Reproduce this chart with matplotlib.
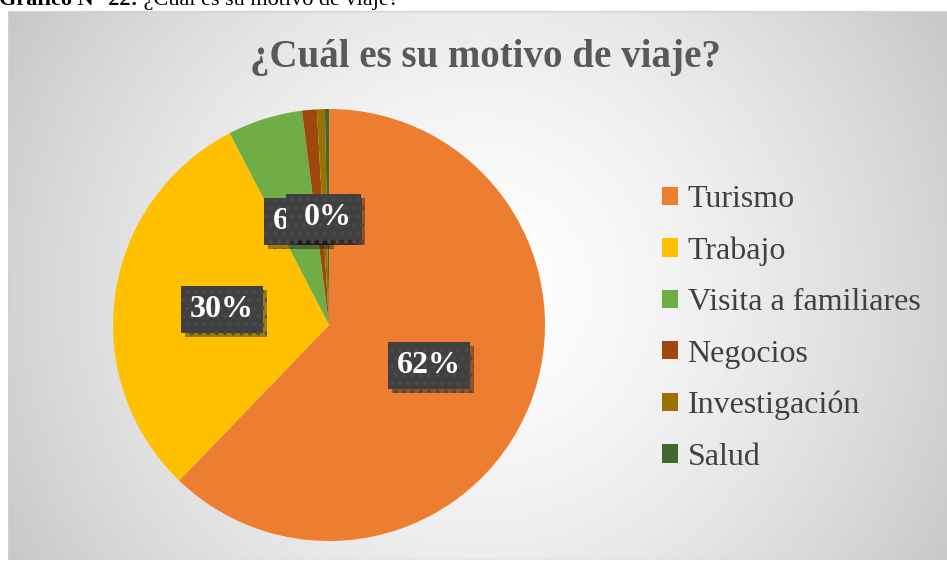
import matplotlib
matplotlib.use("Agg")
import matplotlib.pyplot as plt
import matplotlib.patheffects as pe
from matplotlib.patches import Rectangle
import numpy as np

plt.rcParams["font.family"] = ["Liberation Serif", "DejaVu Serif"]
plt.rcParams["hatch.linewidth"] = 1.6

# survey answers, percent of respondents
categories = ["Turismo", "Trabajo", "Visita a familiares", "Negocios",
              "Investigación", "Salud"]
percentages = [62.2, 30.2, 5.6, 1.1, 0.6, 0.3]
colors = ["#ED7D31", "#FFC000", "#70AD47", "#9E480E", "#997300", "#43682B"]

W, H = 947, 562
fig = plt.figure(figsize=(W / 100, H / 100), dpi=100)
fig.patch.set_facecolor("white")

# chart area with soft radial background
bg = fig.add_axes([8 / W, (H - 560) / H, (W - 8) / W, 549 / H])
bg.set_axis_off()
yy, xx = np.mgrid[0:549, 0:939]
d = np.hypot(xx - 470, yy - 280) / 548.0
shade = 255 - 56 * np.clip(d, 0, 1.2) ** 1.5
img = np.dstack([shade, shade, shade]).astype(np.uint8)
bg.imshow(img, aspect="auto", extent=(0, 1, 0, 1), origin="upper")
bg.add_patch(Rectangle((0, 0), 1, 1, transform=bg.transAxes, fill=False,
                       edgecolor="#d0d0d0", linewidth=1.0))
bg.set_xlim(0, 1)
bg.set_ylim(0, 1)

# caption above the chart (partly clipped by the page)
over = fig.add_axes([0, 0, 1, 1])
over.set_axis_off()
over.set_xlim(0, W)
over.set_ylim(H, 0)
cap = over.text(-1, 5, "Gráfico N° 22:", fontsize=16, fontweight="bold",
                color="black", va="baseline", ha="left")
over.annotate(" ¿Cuál es su motivo de viaje?", xy=(1, 0), xycoords=cap,
              fontsize=16, color="black", va="bottom", ha="left")

fig.text(485 / W, 1 - 57 / H, "¿Cuál es su motivo de viaje?",
         fontsize=28, fontweight="bold", color="#595959",
         ha="center", va="center")

# pie
R = 216
cx, cy = 329, 325
ax = fig.add_axes([(cx - R) / W, (H - cy - R) / H, 2 * R / W, 2 * R / H])
wedges, _, autotexts = ax.pie(
    percentages, colors=colors, startangle=90, counterclock=False,
    radius=1, autopct=lambda p: f"{p:.0f}%", pctdistance=0.5,
    wedgeprops=dict(linewidth=0),
    textprops=dict(color="white", fontsize=23, fontweight="bold"))
ax.set_xlim(-1, 1)
ax.set_ylim(-1, 1)
ax.set_aspect("equal")

for t in autotexts:
    t.set_bbox(dict(boxstyle="square,pad=0.28", facecolor="#404040",
                    edgecolor="#4a4a4a", linewidth=0, hatch="..",
                    path_effects=[pe.SimplePatchShadow(offset=(3, -3),
                                                       alpha=0.4),
                                  pe.Normal()]))

fig.legend(wedges, categories, loc="upper left",
           bbox_to_anchor=(662 / W, 1 - 185 / H), frameon=False,
           fontsize=23, labelcolor="#404040", handlelength=0.5,
           handleheight=0.5, handletextpad=0.3, labelspacing=0.7,
           borderpad=0, borderaxespad=0)

fig.savefig("out.png", dpi=100, facecolor="white")
